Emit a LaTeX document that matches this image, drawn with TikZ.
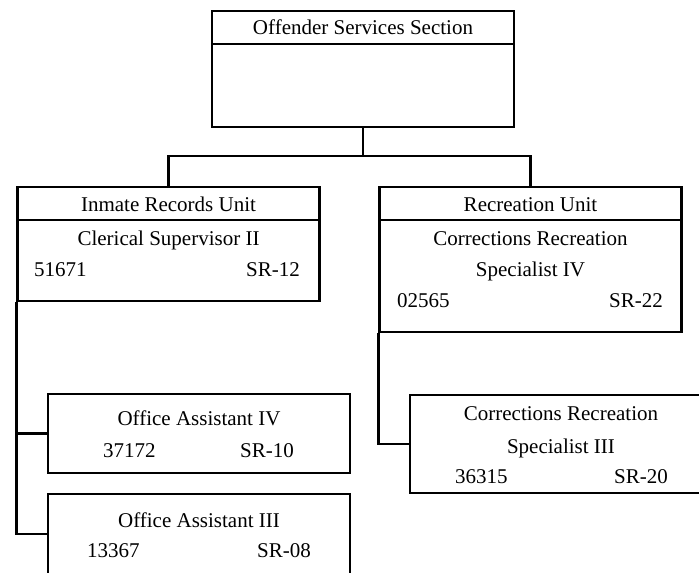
\documentclass[tikz,border=0pt]{standalone}
\usepackage{fontspec}
\setmainfont{Liberation Serif}
\usetikzlibrary{positioning}

\begin{document}
\begin{tikzpicture}[x=0.5pt,y=-0.5pt,line width=1.1pt,
    box/.style={draw, rectangle, minimum width=151pt, inner sep=0pt},
    txt/.style={font=\fontsize{10.5}{12}\selectfont, inner sep=0pt, text height=7pt, text depth=0pt}]
    \useasboundingbox (0,0) rectangle (699,572);
    % boxes
    \node[box, minimum height=58pt] (oss) at (363,69) {};
    \node[box, minimum height=57pt] (iru) at (168.5,244) {};
    \node[box, minimum height=72.5pt] (ru) at (530.5,259.5) {};
    \node[box, minimum height=39.5pt] (oa4) at (199,433.5) {};
    \node[box, minimum height=40pt] (oa3) at (199,534) {};
    \node[box, minimum height=49pt] (cr3) at (561,444) {};
    % header rows
    \draw ([yshift=-17pt]oss.north west) -- ([yshift=-17pt]oss.north east);
    \draw ([yshift=-17pt]iru.north west) -- ([yshift=-17pt]iru.north east);
    \draw ([yshift=-17pt]ru.north west) -- ([yshift=-17pt]ru.north east);
    % texts
    \node[txt] (osshead) at (363,28) {Offender Services Section};
    \node[txt] (iruhead) at (168.5,204) {Inmate Records Unit};
    \node[txt] (irutitle) at (168.5,238) {Clerical Supervisor II};
    \node[txt, anchor=west] (irunum) at (33,269) {51671};
    \node[txt, anchor=east] (irusr) at (301,269) {SR-12};
    \node[txt] (ruhead) at (530.5,204) {Recreation Unit};
    \node[txt] (rutitle) at (530.5,238) {Corrections Recreation};
    \node[txt] (rutitleb) at (530.5,269) {Specialist IV};
    \node[txt, anchor=west] (runum) at (396,300) {02565};
    \node[txt, anchor=east] (rusr) at (664,300) {SR-22};
    \node[txt] (oa4title) at (199,418) {Office Assistant IV};
    \node[txt, anchor=west] (oa4num) at (102,450) {37172};
    \node[txt, anchor=east] (oa4sr) at (295,450) {SR-10};
    \node[txt] (oa3title) at (199,520) {Office Assistant III};
    \node[txt, anchor=west] (oa3num) at (86,550) {13367};
    \node[txt, anchor=east] (oa3sr) at (312,550) {SR-08};
    \node[txt] (cr3title) at (561,413) {Corrections Recreation};
    \node[txt] (cr3titleb) at (561,446) {Specialist III};
    \node[txt, anchor=west] (cr3num) at (454,476) {36315};
    \node[txt, anchor=east] (cr3sr) at (669,476) {SR-20};
    % connectors
    \coordinate (split) at (363,156);
    \draw (oss.south) -- (split);
    \draw (iru.north) |- (split) -| (ru.north);
    \draw (iru.south west) |- (oa4.west);
    \draw (iru.south west) |- (oa3.west);
    \draw (ru.south west) |- (cr3.west);
\end{tikzpicture}
\end{document}
